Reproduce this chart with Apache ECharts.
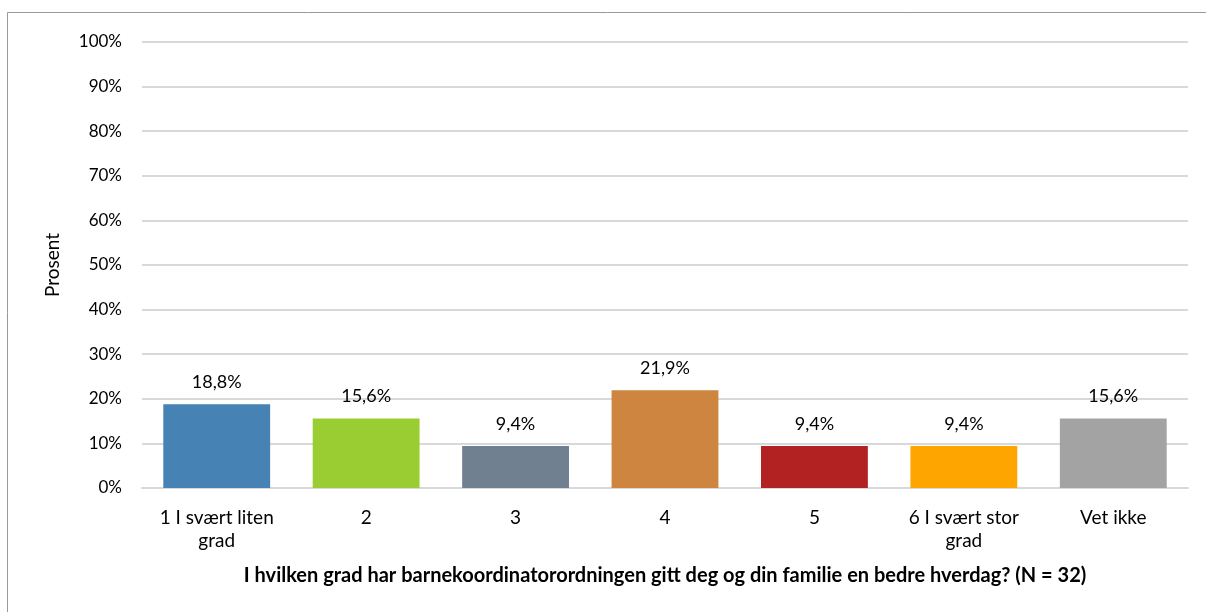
<!DOCTYPE html>
<html>
<head>
<meta charset="utf-8">
<script src="https://cdn.jsdelivr.net/npm/echarts@6/dist/echarts.min.js"></script>
<style>
    html, body { margin: 0; padding: 0; background: #fff; }
    #chart { width: 1206px; height: 612px; }
</style>
</head>
<body>
<div id="chart"></div>
<script>
// categories and values
const categories = ['1 I svært liten\ngrad', '2', '3', '4', '5', '6 I svært stor\ngrad', 'Vet ikke']
const percents = [18.8, 15.6, 9.4, 21.9, 9.4, 9.4, 15.6]
const barColors = ['#4682B4', '#9ACD32', '#708090', '#CD853F', '#B22222', '#FFA500', '#A3A3A3']
const yTicks = [0, 10, 20, 30, 40, 50, 60, 70, 80, 90, 100]

const font = 'Lato, "Open Sans", sans-serif'
let myChart = echarts.init(document.getElementById('chart'))
let option = {
    animation: false,
    textStyle: { fontFamily: font },
    graphic: [
        {
            type: 'rect',
            shape: { x: 7.5, y: 12.5, width: 1300, height: 700 },
            style: { fill: 'none', stroke: '#999', lineWidth: 1 },
            silent: true
        }
    ],
    grid: { left: 142, right: 18, top: 42, bottom: 124 },
    xAxis: {
        type: 'category',
        data: categories,
        name: 'I hvilken grad har barnekoordinatorordningen gitt deg og din familie en bedre hverdag? (N = 32)',
        nameLocation: 'middle',
        nameGap: 78,
        nameTextStyle: { fontFamily: font, fontSize: 20, fontWeight: 'bold', color: '#000' },
        axisLine: { lineStyle: { color: '#d9d9d9', width: 2 } },
        axisTick: { show: false },
        axisLabel: { fontFamily: font, fontSize: 19, color: '#000', margin: 18, lineHeight: 23, interval: 0 }
    },
    yAxis: {
        type: 'value',
        min: yTicks[0],
        max: yTicks[yTicks.length - 1],
        interval: 10,
        name: 'Prosent',
        nameLocation: 'middle',
        nameGap: 80,
        nameTextStyle: { fontFamily: font, fontSize: 19, color: '#000' },
        axisLine: { show: false },
        axisTick: { show: false },
        axisLabel: { fontFamily: font, fontSize: 17, color: '#000', margin: 20, formatter: '{value}%' },
        splitLine: { lineStyle: { color: '#d9d9d9', width: 2 } }
    },
    series: [
        {
            type: 'bar',
            barCategoryGap: '28.5%',
            data: percents.map((v, i) => ({ value: v, itemStyle: { color: barColors[i] } })),
            label: {
                show: true,
                position: 'top',
                distance: 13,
                fontFamily: font,
                fontSize: 18,
                color: '#000',
                formatter: p => p.value.toFixed(1).replace('.', ',') + '%'
            }
        }
    ]
}
myChart.setOption(option)
</script>
</body>
</html>
